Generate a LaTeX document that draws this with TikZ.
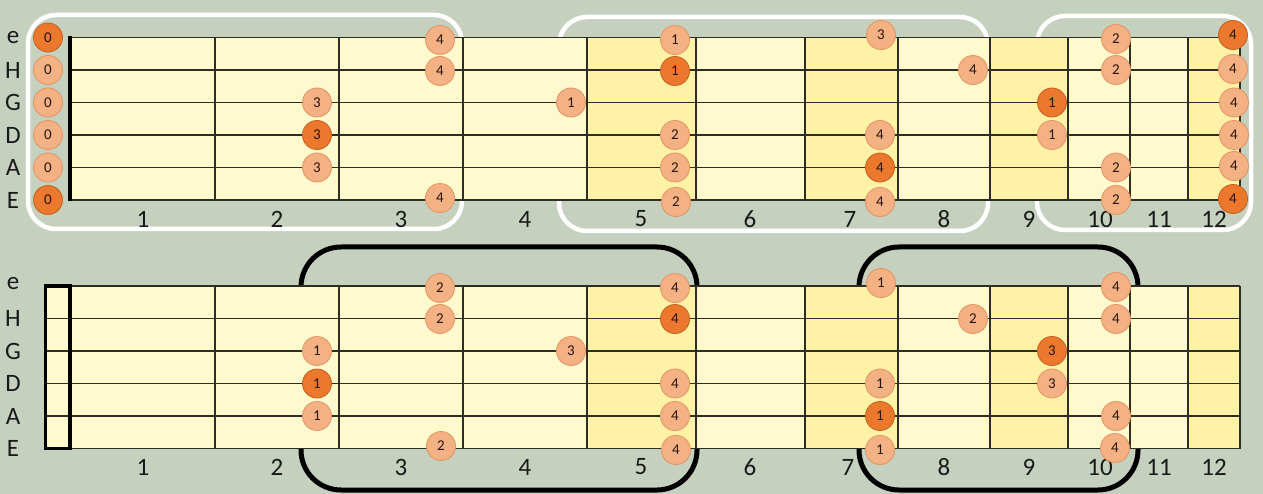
\documentclass[tikz,border=0pt]{standalone}
\usepackage{fontspec}
\setmainfont{Carlito}
\newlength{\du}
\setlength{\du}{1pt}
\definecolor{boardbg}{RGB}{197,209,190}
\definecolor{boardlight}{RGB}{255,249,206}
\definecolor{boardinlay}{RGB}{255,241,166}
\definecolor{wirecol}{RGB}{45,45,35}
\definecolor{dotlight}{RGB}{244,177,131}
\definecolor{dotedge}{RGB}{226,148,98}
\definecolor{dotroot}{RGB}{235,120,45}
\definecolor{rootedge}{RGB}{196,96,30}
\definecolor{dottext}{RGB}{40,20,10}
\definecolor{labeltext}{RGB}{25,25,25}

\begin{document}
\begin{tikzpicture}[
  whitebox/.style={draw=white, line width=4.5\du, rounded corners=28\du},
  blackbox/.style={draw=black, line width=5\du, rounded corners=40\du},
  boardfill/.style={fill=boardlight},
  inlayfill/.style={fill=boardinlay},
  wire/.style={draw=wirecol, line width=1.4\du},
  nutline/.style={draw=black, line width=4\du},
  fingerdot/.style={circle, draw=dotedge, line width=0.8\du, fill=dotlight, minimum size=29\du, inner sep=0pt, text=dottext, font=\fontsize{15}{15}\selectfont},
  rootdot/.style={fingerdot, draw=rootedge, fill=dotroot},
  stringname/.style={font=\fontsize{25}{25}\selectfont, text=labeltext},
  fretno/.style={font=\fontsize{25}{25}\selectfont, text=labeltext}
]
\pgftransformxscale{1.000000}
\pgftransformyscale{-1.000000}
\useasboundingbox (0\du,0\du) rectangle (1263\du,494\du);
\fill[boardbg] (0\du,0\du) rectangle (1263\du,494\du);
% position boxes (behind the boards)
\draw[whitebox] (28\du,15\du) rectangle (462\du,229\du);
\draw[whitebox] (559\du,17\du) rectangle (988\du,231\du);
\draw[whitebox] (1037\du,16\du) rectangle (1251\du,230\du);
\draw[blackbox] (301\du,247\du) rectangle (697\du,490\du);
\draw[blackbox] (859\du,247\du) rectangle (1138\du,490\du);
% upper board
\fill[boardfill] (70\du,37.5\du) rectangle (1240\du,200\du);
\fill[inlayfill] (587\du,37.5\du) rectangle (696\du,200\du);
\fill[inlayfill] (805\du,37.5\du) rectangle (898\du,200\du);
\fill[inlayfill] (990\du,37.5\du) rectangle (1068\du,200\du);
\fill[inlayfill] (1188\du,37.5\du) rectangle (1240\du,200\du);
\draw[wire] (70\du,37.5\du)--(1240\du,37.5\du);
\draw[wire] (70\du,70\du)--(1240\du,70\du);
\draw[wire] (70\du,102.5\du)--(1240\du,102.5\du);
\draw[wire] (70\du,135\du)--(1240\du,135\du);
\draw[wire] (70\du,167.5\du)--(1240\du,167.5\du);
\draw[wire] (70\du,200\du)--(1240\du,200\du);
\draw[wire] (215\du,37.5\du)--(215\du,200\du);
\draw[wire] (339\du,37.5\du)--(339\du,200\du);
\draw[wire] (463\du,37.5\du)--(463\du,200\du);
\draw[wire] (587\du,37.5\du)--(587\du,200\du);
\draw[wire] (696\du,37.5\du)--(696\du,200\du);
\draw[wire] (805\du,37.5\du)--(805\du,200\du);
\draw[wire] (898\du,37.5\du)--(898\du,200\du);
\draw[wire] (990\du,37.5\du)--(990\du,200\du);
\draw[wire] (1068\du,37.5\du)--(1068\du,200\du);
\draw[wire] (1130\du,37.5\du)--(1130\du,200\du);
\draw[wire] (1188\du,37.5\du)--(1188\du,200\du);
\draw[wire] (1240\du,37.5\du)--(1240\du,200\du);
\draw[nutline] (70\du,36\du)--(70\du,201.5\du);
% lower board
\fill[boardfill] (45\du,286\du) rectangle (1240\du,448.5\du);
\fill[inlayfill] (587\du,286\du) rectangle (696\du,448.5\du);
\fill[inlayfill] (805\du,286\du) rectangle (898\du,448.5\du);
\fill[inlayfill] (990\du,286\du) rectangle (1068\du,448.5\du);
\fill[inlayfill] (1188\du,286\du) rectangle (1240\du,448.5\du);
\draw[wire] (45\du,286\du)--(1240\du,286\du);
\draw[wire] (45\du,318.5\du)--(1240\du,318.5\du);
\draw[wire] (45\du,351\du)--(1240\du,351\du);
\draw[wire] (45\du,383.5\du)--(1240\du,383.5\du);
\draw[wire] (45\du,416\du)--(1240\du,416\du);
\draw[wire] (45\du,448.5\du)--(1240\du,448.5\du);
\draw[wire] (215\du,286\du)--(215\du,448.5\du);
\draw[wire] (339\du,286\du)--(339\du,448.5\du);
\draw[wire] (463\du,286\du)--(463\du,448.5\du);
\draw[wire] (587\du,286\du)--(587\du,448.5\du);
\draw[wire] (696\du,286\du)--(696\du,448.5\du);
\draw[wire] (805\du,286\du)--(805\du,448.5\du);
\draw[wire] (898\du,286\du)--(898\du,448.5\du);
\draw[wire] (990\du,286\du)--(990\du,448.5\du);
\draw[wire] (1068\du,286\du)--(1068\du,448.5\du);
\draw[wire] (1130\du,286\du)--(1130\du,448.5\du);
\draw[wire] (1188\du,286\du)--(1188\du,448.5\du);
\draw[wire] (1240\du,286\du)--(1240\du,448.5\du);
\draw[draw=black, line width=3\du] (45\du,286\du) rectangle (70\du,448.5\du);
\draw[nutline] (70\du,284.5\du)--(70\du,450\du);
% string names
\node[stringname] (tle) at (13\du,37.5\du) {e};
\node[stringname] (tlH) at (13\du,70\du) {H};
\node[stringname] (tlG) at (13\du,102.5\du) {G};
\node[stringname] (tlD) at (13\du,135\du) {D};
\node[stringname] (tlA) at (13\du,167.5\du) {A};
\node[stringname] (tlE) at (13\du,200\du) {E};
\node[stringname] (ble) at (13\du,284\du) {e};
\node[stringname] (blH) at (13\du,318.5\du) {H};
\node[stringname] (blG) at (13\du,351\du) {G};
\node[stringname] (blD) at (13\du,383.5\du) {D};
\node[stringname] (blA) at (13\du,416\du) {A};
\node[stringname] (blE) at (13\du,448.5\du) {E};
% fret numbers
\node[fretno] (tn1) at (143\du,219\du) {1};
\node[fretno] (tn2) at (277\du,219\du) {2};
\node[fretno] (tn3) at (401\du,219\du) {3};
\node[fretno] (tn4) at (525\du,219\du) {4};
\node[fretno] (tn5) at (641\du,219\du) {5};
\node[fretno] (tn6) at (750\du,219\du) {6};
\node[fretno] (tn7) at (850\du,219\du) {7};
\node[fretno] (tn8) at (944\du,219\du) {8};
\node[fretno] (tn9) at (1029\du,219\du) {9};
\node[fretno] (tn10) at (1100\du,219\du) {10};
\node[fretno] (tn11) at (1159\du,219\du) {11};
\node[fretno] (tn12) at (1214\du,219\du) {12};
\node[fretno] (bn1) at (143\du,467\du) {1};
\node[fretno] (bn2) at (277\du,467\du) {2};
\node[fretno] (bn3) at (401\du,467\du) {3};
\node[fretno] (bn4) at (525\du,467\du) {4};
\node[fretno] (bn5) at (641\du,467\du) {5};
\node[fretno] (bn6) at (750\du,467\du) {6};
\node[fretno] (bn7) at (848\du,467\du) {7};
\node[fretno] (bn8) at (944\du,467\du) {8};
\node[fretno] (bn9) at (1029\du,467\du) {9};
\node[fretno] (bn10) at (1100\du,467\du) {10};
\node[fretno] (bn11) at (1159\du,467\du) {11};
\node[fretno] (bn12) at (1214\du,467\du) {12};
% upper board fingering
\node[rootdot] (t0e) at (48\du,37.5\du) {0};
\node[fingerdot] (t0H) at (48\du,70\du) {0};
\node[fingerdot] (t0G) at (48\du,102.5\du) {0};
\node[fingerdot] (t0D) at (48\du,135\du) {0};
\node[fingerdot] (t0A) at (48\du,167.5\du) {0};
\node[rootdot] (t0E) at (48\du,200\du) {0};
\node[fingerdot] (t2G) at (317\du,102.5\du) {3};
\node[rootdot] (t2D) at (317\du,135\du) {3};
\node[fingerdot] (t2A) at (317\du,167.5\du) {3};
\node[fingerdot] (t3e) at (440\du,40\du) {4};
\node[fingerdot] (t3H) at (440\du,71\du) {4};
\node[fingerdot] (t3E) at (440\du,198\du) {4};
\node[fingerdot] (t4G) at (571\du,102.5\du) {1};
\node[fingerdot] (t5e) at (675\du,40\du) {1};
\node[rootdot] (t5H) at (675\du,71\du) {1};
\node[fingerdot] (t5D) at (675\du,135\du) {2};
\node[fingerdot] (t5A) at (675\du,167.5\du) {2};
\node[fingerdot] (t5E) at (676\du,202\du) {2};
\node[fingerdot] (t7e) at (881\du,35\du) {3};
\node[fingerdot] (t7D) at (880\du,135\du) {4};
\node[rootdot] (t7A) at (880\du,167.5\du) {4};
\node[fingerdot] (t7E) at (880\du,202\du) {4};
\node[fingerdot] (t8H) at (973\du,70\du) {4};
\node[rootdot] (t9G) at (1052\du,102.5\du) {1};
\node[fingerdot] (t9D) at (1052\du,135\du) {1};
\node[fingerdot] (t10e) at (1116\du,39\du) {2};
\node[fingerdot] (t10H) at (1116\du,70\du) {2};
\node[fingerdot] (t10A) at (1116\du,167.5\du) {2};
\node[fingerdot] (t10E) at (1116\du,200\du) {2};
\node[rootdot] (t12e) at (1233\du,35\du) {4};
\node[fingerdot] (t12H) at (1233\du,69\du) {4};
\node[fingerdot] (t12G) at (1234\du,102.5\du) {4};
\node[fingerdot] (t12D) at (1234\du,135\du) {4};
\node[fingerdot] (t12A) at (1234\du,166\du) {4};
\node[rootdot] (t12E) at (1233\du,199\du) {4};
% lower board fingering
\node[fingerdot] (b2G) at (317\du,351\du) {1};
\node[rootdot] (b2D) at (317\du,383.5\du) {1};
\node[fingerdot] (b2A) at (317\du,416\du) {1};
\node[fingerdot] (b3e) at (440\du,288\du) {2};
\node[fingerdot] (b3H) at (440\du,319\du) {2};
\node[fingerdot] (b3E) at (441\du,446\du) {2};
\node[fingerdot] (b4G) at (571\du,351\du) {3};
\node[fingerdot] (b5e) at (675\du,288\du) {4};
\node[rootdot] (b5H) at (675\du,319\du) {4};
\node[fingerdot] (b5D) at (675\du,383.5\du) {4};
\node[fingerdot] (b5A) at (675\du,416\du) {4};
\node[fingerdot] (b5E) at (676\du,450\du) {4};
\node[fingerdot] (b7e) at (881\du,283\du) {1};
\node[fingerdot] (b7D) at (880\du,383.5\du) {1};
\node[rootdot] (b7A) at (880\du,416\du) {1};
\node[fingerdot] (b7E) at (880\du,450\du) {1};
\node[fingerdot] (b8H) at (973\du,319\du) {2};
\node[rootdot] (b9G) at (1052\du,351\du) {3};
\node[fingerdot] (b9D) at (1052\du,383.5\du) {3};
\node[fingerdot] (b10e) at (1116\du,287\du) {4};
\node[fingerdot] (b10H) at (1116\du,319\du) {4};
\node[fingerdot] (b10A) at (1116\du,416\du) {4};
\node[fingerdot] (b10E) at (1115\du,448\du) {4};
\end{tikzpicture}
\end{document}
